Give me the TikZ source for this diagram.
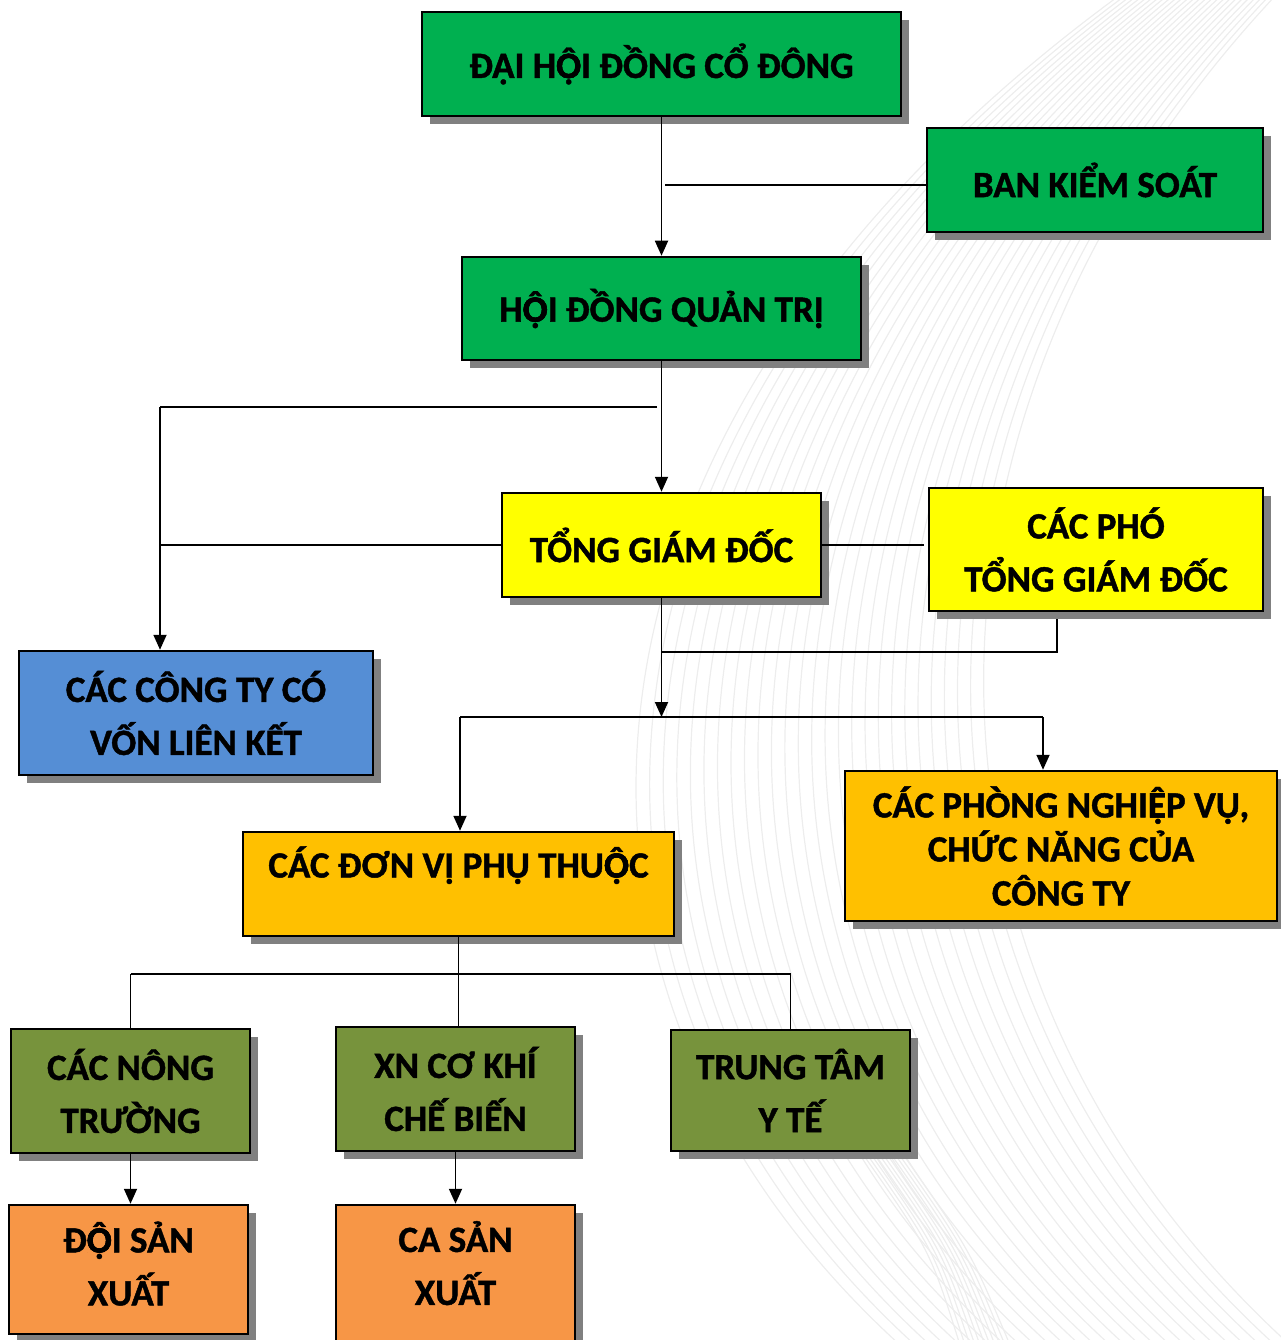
\documentclass[tikz,border=0pt]{standalone}
\usepackage{fontspec}
\setmainfont{Carlito}[BoldFeatures={FakeBold=1.2}]
\usetikzlibrary{arrows.meta,shadows}
\definecolor{xanh}{HTML}{00B050}
\definecolor{vang}{HTML}{FFFF00}
\definecolor{lam}{HTML}{558ED5}
\definecolor{cam}{HTML}{FFC000}
\definecolor{reu}{HTML}{77933C}
\definecolor{camnhat}{HTML}{F79646}
% chu co mu va dau nang
\newcommand{\Ohd}{\ooalign{Ô\cr Ọ\cr}}
\newcommand{\Ehd}{\ooalign{Ê\cr Ẹ\cr}}
\begin{document}
\begin{tikzpicture}[x=1pt,y=-1pt,
    main/.style = {draw, line width=2.5pt, rectangle, align=center, inner sep=0pt,
      font=\fontsize{37}{53}\selectfont\bfseries,
      drop shadow={shadow xshift=8pt, shadow yshift=-8pt, fill=black!50, opacity=1}},
    arr/.style = {line width=1.8pt, -{Triangle[length=15pt,width=13pt]}},
    con/.style = {line width=1.8pt},
    bgline/.style = {black!7, line width=1.2pt}]
    \useasboundingbox (0,0) rectangle (1280,1340);
    % hoa van nen
    \foreach \i in {0,...,26}
      \draw[bgline] (1120+6*\i,-5) .. controls (540+13*\i,420) and (500+15*\i,980) .. (900+15*\i,1345);
    \foreach \i in {0,...,10}
      \draw[bgline] (860+4*\i,1150) .. controls (930+4*\i,1250) .. (960+5*\i,1345);
    % cac khoi
    \node[main, fill=xanh, minimum width=479pt, minimum height=104pt] (dh) at (661.5,64) {ĐẠI H\Ohd{}I ĐỒNG CỔ ĐÔNG};
    \node[main, fill=xanh, minimum width=336pt, minimum height=104pt] (bks) at (1095,180) {BAN KIỂM SOÁT};
    \node[main, fill=xanh, minimum width=399pt, minimum height=103pt] (hd) at (661.5,308.5) {H\Ohd{}I ĐỒNG QUẢN TRỊ};
    \node[main, fill=vang, minimum width=319pt, minimum height=104pt] (tgd) at (661.5,545) {TỔNG GIÁM ĐỐC};
    \node[main, fill=vang, minimum width=334pt, minimum height=123pt] (ptgd) at (1096,549.5) {CÁC PHÓ\\TỔNG GIÁM ĐỐC};
    \node[main, fill=lam, minimum width=354pt, minimum height=124pt] (ct) at (196,713) {CÁC CÔNG TY CÓ\\VỐN LIÊN KẾT};
    \node[main, fill=cam, minimum width=431pt, minimum height=104pt, text height=26pt, text depth=39pt] (dv) at (458.5,884) {CÁC ĐƠN VỊ PHỤ THU\Ohd{}C};
    \node[main, fill=cam, minimum width=432pt, minimum height=150pt, font=\fontsize{37}{44}\selectfont\bfseries] (pnv) at (1061,846) {CÁC PHÒNG NGHI\Ehd{}P VỤ,\\CHỨC NĂNG CỦA\\CÔNG TY};
    \node[main, fill=reu, minimum width=239pt, minimum height=124pt] (cnt) at (130.5,1091) {CÁC NÔNG\\TRƯỜNG};
    \node[main, fill=reu, minimum width=239pt, minimum height=124pt] (xn) at (455.5,1089) {XN CƠ KHÍ\\CHẾ BIẾN};
    \node[main, fill=reu, minimum width=239pt, minimum height=121pt] (tt) at (790.5,1090.5) {TRUNG TÂM\\Y TẾ};
    \node[main, fill=camnhat, minimum width=239pt, minimum height=129pt, text depth=12pt] (dsx) at (128.5,1269.5) {Đ\Ohd{}I SẢN\\XUẤT};
    \node[main, fill=camnhat, minimum width=239pt, minimum height=150pt, text depth=34pt] (csx) at (455.5,1280) {CA SẢN\\XUẤT};
    % cac duong noi
    \coordinate (jb) at (665,185);
    \coordinate (j1) at (160,407);
    \coordinate (j2) at (660,717);
    \coordinate (j3) at (1057,652);
    \coordinate (jl) at (460,717);
    \coordinate (jr) at (1043,717);
    \coordinate (j4) at (0,974);
    \draw[arr] (dh) -- (hd);
    \draw[con] (jb) -- (jb -| bks.west);
    \draw[arr] (hd) -- (tgd);
    \draw[con] (657,407) -- (j1);
    \draw[arr] (j1) -- (j1 |- ct.north);
    \draw[con] (tgd.west) -- (tgd.west -| j1);
    \draw[con] (tgd.east) -- ([xshift=-4pt]tgd.east -| ptgd.west);
    \draw[arr] (tgd.south) -- (tgd.south |- j2);
    \draw[con] ([yshift=-7pt]j3 |- ptgd.south) -- (j3) -- (j3 -| tgd.south);
    \draw[con] (jl) -- (jr);
    \draw[arr] (jl) -- (jl |- dv.north);
    \draw[arr] (jr) -- (jr |- pnv.north);
    \draw[con] (dv.south) -- (dv.south |- xn.north);
    \draw[con] (cnt.north |- j4) -- (tt.north |- j4);
    \draw[con] (cnt.north |- j4) -- (cnt.north);
    \draw[con] (tt.north |- j4) -- (tt.north);
    \draw[arr] (cnt.south) -- (cnt.south |- dsx.north);
    \draw[arr] (xn) -- (csx);
\end{tikzpicture}
\end{document}
